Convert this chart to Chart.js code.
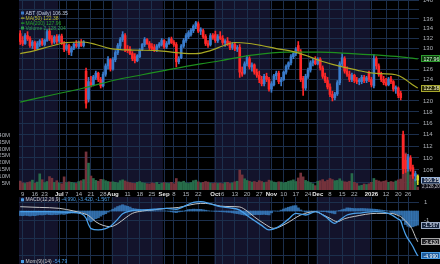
<!DOCTYPE html>
<html><head><meta charset="utf-8">
<script src="https://cdn.jsdelivr.net/npm/chart.js@4.4.1/dist/chart.umd.min.js"></script>
<style>
html,body{margin:0;padding:0;background:#000;width:440px;height:264px;overflow:hidden}
canvas{position:absolute;left:0}
#c1{top:0}
#c2{top:197px}
</style></head><body>
<canvas id="c1" width="440" height="197"></canvas>
<canvas id="c2" width="440" height="67"></canvas>
<script>
// ---------- DATA ----------
const dates = [
'6/6','6/9','6/10','6/11','6/12','6/13','6/16','6/17','6/18','6/20','6/23','6/24','6/25','6/26','6/27','6/30',
'7/1','7/2','7/3','7/7','7/8','7/9','7/10','7/11','7/14','7/15','7/16','7/17','7/18','7/21','7/22','7/23','7/24','7/25','7/28','7/29','7/30','7/31',
'8/1','8/4','8/5','8/6','8/7','8/8','8/11','8/12','8/13','8/14','8/15','8/18','8/19','8/20','8/21','8/22','8/25','8/26','8/27','8/28','8/29',
'9/2','9/3','9/4','9/5','9/8','9/9','9/10','9/11','9/12','9/15','9/16','9/17','9/18','9/19','9/22','9/23','9/24','9/25','9/26','9/29','9/30',
'10/1','10/2','10/3','10/6','10/7','10/8','10/9','10/10','10/13','10/14','10/15','10/16','10/17','10/20','10/21','10/22','10/23','10/24','10/27','10/28','10/29','10/30','10/31',
'11/3','11/4','11/5','11/6','11/7','11/10','11/11','11/12','11/13','11/14','11/17','11/18','11/19','11/20','11/21','11/24','11/25','11/26','11/28',
'12/1','12/2','12/3','12/4','12/5','12/8','12/9','12/10','12/11','12/12','12/15','12/16','12/17','12/18','12/19','12/22','12/23','12/24','12/26','12/29','12/30','12/31',
'1/2','1/5','1/6','1/7','1/8','1/9','1/12','1/13','1/14','1/15','1/16','1/20','1/21','1/22','1/23','1/26','1/27','1/28','1/29','1/30'
];
const opens = [
133.0,131.6,131.0,132.6,132.0,130.6,131.2,130.0,130.8,131.4,130.8,131.6,133.5,132.0,131.3,132.4,
131.5,132.5,131.0,129.9,130.6,129.3,130.1,130.9,130.4,131.2,130.6,125.6,120.3,123.4,123.0,124.4,125.2,124.0,122.8,125.0,126.6,127.8,
126.0,127.8,129.2,130.5,131.8,132.6,129.8,129.8,129.0,128.4,127.6,128.4,129.8,130.8,131.8,131.0,130.4,130.2,129.8,130.5,130.8,
131.6,130.3,131.0,131.9,131.2,130.8,127.4,128.2,130.5,131.6,132.4,132.8,133.6,134.5,135.0,133.5,133.6,132.4,131.0,130.8,132.6,
132.8,131.6,132.4,132.0,131.2,131.5,130.9,130.2,130.8,129.9,130.2,125.4,125.2,127.0,128.0,126.4,126.8,125.4,124.8,124.0,123.2,124.6,124.0,
122.2,123.0,124.7,125.2,123.6,124.0,125.4,126.5,127.2,128.4,129.0,130.6,129.4,124.2,122.4,124.6,125.8,127.2,127.6,
127.0,127.9,126.2,124.6,123.8,122.6,121.2,120.6,121.3,123.4,127.0,128.0,125.6,125.0,124.0,124.8,123.8,123.6,123.6,124.4,123.8,125.2,
124.0,122.8,128.0,126.6,125.0,124.0,123.4,123.0,124.1,123.6,122.2,122.4,121.4,114.0,109.6,108.2,110.0,108.4,107.0,107.0
];
const highs = [
133.6,132.4,133.0,133.4,132.4,131.6,131.5,131.4,131.8,132.0,131.9,133.8,134.0,132.6,132.6,132.8,
132.8,132.9,131.4,131.0,130.9,130.4,131.2,131.6,131.5,131.8,131.6,126.2,124.4,124.6,124.8,125.6,125.4,124.4,125.4,127.0,128.4,128.0,
128.2,129.6,131.0,132.2,133.4,133.0,130.6,130.4,129.4,129.0,128.8,130.0,131.0,132.2,132.0,131.4,131.0,130.8,130.8,131.2,132.0,
131.8,131.4,132.2,132.3,131.6,131.2,128.4,130.8,132.0,133.0,133.6,134.0,134.8,135.5,135.4,134.2,133.9,132.8,131.6,133.0,133.0,
133.5,132.8,133.4,132.6,131.8,132.2,131.4,131.2,131.2,130.6,130.8,126.4,127.4,128.6,128.4,127.2,127.0,126.0,125.6,124.6,125.0,125.2,124.4,
123.6,125.0,125.6,125.6,124.4,125.6,126.8,127.4,128.8,129.4,130.2,131.4,129.8,124.6,125.0,126.2,127.6,128.0,128.4,
128.2,128.2,126.6,125.2,124.4,123.2,121.8,121.6,123.8,127.4,129.0,128.4,126.4,125.6,125.2,125.0,124.4,124.2,124.8,124.8,124.6,125.6,
124.4,128.8,128.4,127.0,125.4,124.6,124.2,124.4,124.6,123.8,122.8,122.6,121.8,114.6,110.6,110.6,110.4,108.8,107.8,107.2
];
const lows = [
130.8,130.6,130.8,131.6,130.2,130.0,129.6,129.8,130.4,130.6,130.5,131.4,131.6,130.8,131.0,131.0,
131.2,130.8,129.4,129.6,128.8,128.6,129.8,130.2,130.0,130.4,130.3,118.7,119.8,122.6,122.8,124.0,123.6,122.4,122.6,124.6,126.0,125.6,
125.8,127.4,128.8,130.0,131.4,129.4,129.2,128.8,127.6,127.2,127.4,128.2,129.6,130.4,130.8,129.8,129.6,129.4,129.4,130.2,130.5,
130.0,130.0,130.8,131.0,130.4,126.4,127.0,128.0,130.2,131.2,132.0,132.5,133.2,134.0,133.2,132.8,132.0,130.6,130.2,130.5,131.8,
131.2,131.2,131.8,130.8,130.4,130.6,129.8,129.8,129.6,129.4,124.4,124.6,125.0,126.6,126.0,125.6,125.0,124.4,123.4,122.8,122.8,123.6,121.8,
121.6,122.8,124.0,123.2,122.8,123.8,125.0,126.0,126.8,128.0,128.6,129.2,123.6,121.0,122.0,124.2,125.4,126.6,126.8,
126.8,125.8,124.2,123.4,122.2,120.8,120.0,120.2,121.0,123.0,126.6,125.2,124.6,123.6,123.6,123.4,123.2,123.0,123.2,123.4,123.4,123.6,
122.6,122.4,126.0,124.6,123.6,123.0,122.8,122.8,123.2,121.8,121.4,120.6,120.2,107.4,107.6,107.8,107.8,106.6,106.2,105.6
];
const closes = [
131.4,131.0,132.6,131.9,130.6,131.3,130.0,131.0,131.5,130.9,131.7,133.4,131.9,131.2,132.3,131.4,
132.5,131.0,129.8,130.6,129.2,130.1,130.9,130.5,131.2,130.6,131.3,119.6,123.6,123.0,124.5,125.2,124.0,122.8,125.0,126.6,127.9,126.0,
127.8,129.2,130.6,131.8,132.8,129.8,129.6,129.0,128.0,127.6,128.6,129.7,130.8,131.8,131.0,130.2,130.0,129.8,130.5,130.9,131.6,
130.3,131.0,131.9,131.2,130.8,127.4,128.0,130.5,131.6,132.6,133.2,133.7,134.5,135.2,133.5,133.8,132.4,131.0,130.6,132.6,132.2,
131.6,132.4,132.0,131.2,131.5,130.9,130.2,130.8,129.9,130.2,125.4,125.0,127.0,128.2,126.4,126.8,125.4,124.8,124.0,123.2,124.6,124.0,122.2,
123.2,124.7,125.2,123.6,124.0,125.4,126.5,127.2,128.4,129.0,129.8,129.5,124.0,122.4,124.6,125.8,127.2,127.6,127.0,
127.9,126.2,124.6,123.8,122.6,121.2,120.6,121.3,123.4,127.0,128.2,125.6,125.0,124.0,124.8,123.8,123.6,123.9,124.4,123.8,124.3,124.0,
123.0,128.0,126.6,125.0,124.0,123.4,123.0,124.1,123.6,122.2,122.5,121.0,120.6,108.2,108.2,110.2,108.2,107.0,107.4,106.35
];
// volume, millions of shares
const volumes = [
6.5,5.2,4.8,5.5,6.0,7.2,5.0,5.8,11.8,7.5,5.4,6.2,9.8,8.6,5.5,6.8,
5.2,4.6,9.6,5.4,6.0,5.6,5.2,4.8,6.2,6.8,7.6,27.8,19.6,10.2,8.4,7.0,6.4,7.8,7.6,6.8,6.2,5.8,
6.0,5.6,5.2,6.8,7.4,6.6,5.8,5.4,5.0,4.8,5.6,6.2,5.4,5.0,4.6,4.4,5.2,4.8,5.6,4.2,5.0,
5.4,5.0,4.8,5.6,4.6,8.4,6.0,5.8,6.4,5.2,4.8,5.4,6.8,7.2,6.0,5.0,5.6,6.2,5.8,5.0,4.8,
5.2,4.8,5.0,4.6,5.4,5.6,4.8,5.2,6.0,6.4,14.6,11.0,8.2,7.0,6.4,5.8,6.2,5.6,6.8,6.2,5.4,5.8,7.2,
6.6,5.8,5.4,6.0,5.8,5.2,5.6,6.4,6.8,7.4,6.2,8.8,12.4,9.6,7.0,6.2,5.4,4.6,3.2,
6.4,6.8,7.6,6.2,7.2,8.4,7.6,6.8,7.0,8.2,6.6,6.0,5.8,6.4,12.0,5.6,4.8,3.0,3.4,4.4,4.0,4.6,
5.6,8.4,7.2,6.6,6.0,6.4,6.8,5.6,6.2,5.8,6.6,7.4,8.0,40.0,27.0,14.6,11.0,9.7,8.0,2.128204
];
const ma50Dates = ['6/6','6/16','6/25','7/7','7/16','7/23','7/31','8/13','8/27','9/11','9/19','9/29','10/6','10/13','10/21','10/28','11/5','11/14','11/24','12/2','12/9','12/16','12/23','12/31','1/8','1/16','1/22','1/27','1/30'];
const ma50Vals  = [129.0,129.6,130.4,131.2,131.3,130.8,130.0,129.7,129.6,129.1,129.0,129.6,130.5,131.2,131.0,130.6,130.0,129.4,128.5,127.6,126.9,126.3,125.8,125.3,125.1,124.9,124.3,123.3,122.38];
const ma200Dates = ['6/6','6/26','7/16','8/5','8/19','9/3','9/23','10/3','10/22','11/11','12/2','12/19','1/7','1/21','1/30'];
const ma200Vals  = [119.8,121.1,122.4,124.0,124.9,125.8,127.0,127.6,128.7,129.3,129.3,129.0,128.7,128.35,127.96];
const macdDates = ['6/6','6/25','7/8','7/15','7/17','7/18','7/21','7/24','7/29','7/31','8/5','8/7','8/12','8/18','8/26','9/3','9/9','9/12','9/18','9/23','9/29','10/3','10/9','10/15','10/20','10/23','10/28','10/31','11/6','11/12','11/17','11/21','11/28','12/4','12/10','12/12','12/17','12/26','1/6','1/13','1/20','1/21','1/22','1/23','1/26','1/27','1/28','1/29','1/30'];
const macdVals  = [-0.07,-0.07,-0.15,-0.3,-0.8,-1.5,-1.95,-2.1,-1.95,-1.7,-0.9,-0.3,0.0,0.11,0.2,0.3,0.2,0.5,0.95,1.04,0.8,0.48,0.35,0.11,-0.5,-1.05,-1.6,-2.1,-1.74,-0.9,-0.26,-0.44,-0.07,-0.6,-1.37,-1.0,-0.44,-0.2,-0.07,-0.26,-0.9,-1.1,-1.9,-2.6,-3.1,-3.5,-3.95,-4.5,-4.99];
const signalDates = ['6/6','6/18','7/1','7/10','7/15','7/18','7/23','7/28','7/31','8/5','8/8','8/13','8/19','8/26','9/3','9/10','9/17','9/23','9/29','10/3','10/9','10/15','10/20','10/23','10/29','11/4','11/11','11/19','11/28','12/3','12/8','12/11','12/16','12/22','1/6','1/14','1/20','1/21','1/22','1/23','1/26','1/27','1/28','1/29','1/30'];
const signalVals  = [0.48,0.4,0.3,0.0,-0.2,-0.5,-1.2,-1.6,-1.74,-1.4,-0.8,-0.26,0.0,0.15,0.3,0.4,0.7,0.85,0.8,0.55,0.5,0.45,0.0,-0.65,-1.4,-1.93,-1.4,-0.44,-0.07,-0.4,-0.81,-1.19,-0.85,-0.6,-0.26,-0.26,-0.5,-0.63,-0.85,-1.1,-1.4,-1.7,-2.2,-2.85,-3.42];
const histVals = [
-0.5,-0.52,-0.48,-0.5,-0.55,-0.5,-0.52,-0.46,-0.42,-0.44,-0.4,-0.36,-0.4,
-0.42,-0.38,-0.4,-0.36,-0.34,-0.38,-0.3,-0.26,
-0.22,-0.2,-0.16,-0.12,-0.1,-0.2,
-0.4,-1.0,-1.2,-1.05,-0.85,-0.75,-0.57,-0.4,-0.3,-0.12,0.04,
0.2,0.35,0.5,0.6,0.7,0.6,0.52,0.44,0.29,0.25,0.21,0.18,
0.13,0.11,0.1,0.08,0.07,0.05,0.04,0.03,0.02,0.01,0.0,
-0.04,-0.09,-0.14,-0.18,-0.1,-0.06,-0.02,
0.07,0.16,0.18,0.21,0.2,0.19,0.19,0.14,0.09,0.04,0.0,
-0.02,-0.04,-0.05,-0.07,-0.09,-0.11,-0.13,-0.15,-0.2,-0.25,-0.29,-0.34,
-0.4,-0.45,-0.5,-0.46,-0.44,-0.4,-0.39,-0.4,-0.39,-0.37,-0.4,-0.43,
-0.2,0.01,-0.01,-0.02,0.1,0.22,0.33,0.42,0.5,0.58,0.6,
0.35,0.12,-0.02,-0.12,-0.1,-0.06,-0.03,0.0,
-0.02,-0.04,-0.07,-0.06,-0.12,-0.18,-0.24,-0.31,
0.01,0.07,0.15,0.22,0.35,0.33,0.3,0.27,0.27,0.27,0.28,0.27,0.25,0.24,0.22,0.21,0.19,
0.15,0.11,0.08,0.04,0.0,-0.16,-0.24,-0.32,-0.4,-0.47,
-1.05,-1.5,-1.7,-1.8,-1.75,-1.65,-1.567
];
const tickDates = ['6/9','6/16','6/23','7/1','7/7','7/14','7/21','7/28','8/1','8/11','8/18','8/25','9/2','9/8','9/15','9/22','10/1','10/6','10/13','10/20','10/27','11/3','11/10','11/17','11/24','12/1','12/8','12/15','12/22','1/2','1/12','1/20','1/26'];
const tickTexts = ['9','16','23','Jul','7','14','21','28','Aug','11','18','25','Sep','8','15','22','Oct','6','13','20','27','Nov','10','17','24','Dec','8','15','22','2026','12','20','26'];
const monthTexts = ['Jul','Aug','Sep','Oct','Nov','Dec','2026'];
const priceTicks = [106,108,110,112,114,116,118,120,122,124,126,128,130,132,134,136,138,140];
const volumeTicks = [5,10,15,20,25,30,35,40];
const macdTicks = [1,0,-1,-2,-3,-4,-5];
const momLabel = 'Mom(9)(14)';
const momValue = '-54.79';

// ---------- STYLE ----------
const FONT = 'Liberation Sans';
Chart.defaults.font.family = FONT;
const GRID = '#1c2f4c';
const NAVY = '#13132b';
const N = dates.length;
const candleCol = closes.map((c,i)=> i===N-1 ? '#d6d62a' : (c>=opens[i] ? '#3a7ccc' : '#ff2828'));
const volCol = closes.map((c,i)=> c>=opens[i] ? '#276c4a' : '#74323b');
const tickIdx = tickDates.map(d=>dates.indexOf(d));
const fmt = v => v.toFixed(2);
function fmt3(v){ return v.toFixed(3); }
const noPad = s => { s.paddingTop = 0; s.paddingBottom = 0; s.paddingLeft = 0; s.paddingRight = 0; };

const bandPlugin = {
  id:'bands',
  beforeDraw(chart){
    const {ctx, chartArea:a, scales:{x}} = chart;
    ctx.save();
    ctx.fillStyle = '#000'; ctx.fillRect(0,0,chart.width,chart.height);
    const w = x.getPixelForValue(1) - x.getPixelForValue(0);
    let start = 0, band = 0;
    const mon = d => d.split('/')[0];
    for (let i=1;i<=N;i++){
      if (i===N || mon(dates[i])!==mon(dates[start])){
        if (band%2===0){
          const x0 = Math.max(a.left, x.getPixelForValue(start)-w/2);
          const x1 = Math.min(a.right, x.getPixelForValue(i-1)+w/2);
          ctx.fillStyle = NAVY; ctx.fillRect(x0, a.top, x1-x0, a.bottom-a.top);
        }
        band++; start = i;
      }
    }
    ctx.restore();
  }
};

function badge(ctx, y, text, stroke, fill, color){
  const x=421, w=19, h=7;
  ctx.fillStyle = fill; ctx.fillRect(x, Math.round(y-h/2), w, h);
  ctx.strokeStyle = stroke; ctx.lineWidth = 1;
  ctx.strokeRect(x+0.5, Math.round(y-h/2)+0.5, w-1, h-1);
  ctx.fillStyle = color; ctx.font = '5.2px "'+FONT+'"';
  ctx.textAlign='left'; ctx.textBaseline='middle';
  ctx.fillText(text, x+2.5, y+0.5);
}

const overlay1 = {
  id:'overlay1',
  afterDraw(chart){
    const ctx = chart.ctx, y = chart.scales.y;
    ctx.save();
    const rows = [
      ['box','#3a7ccc','ABT (Daily) '+fmt(closes[N-1]),'#c4d0e4'],
      ['line','#b0b02a','MA(50) '+fmt(ma50Vals[ma50Vals.length-1]),'#bcbc30'],
      ['line','#22a022','MA(200) '+fmt(ma200Vals[ma200Vals.length-1]),'#28a428'],
      ['box','#2a9a4a','Volume '+Math.round(volumes[N-1]*1e6).toLocaleString('en-US'),'#2e9e50']
    ];
    ctx.font = '5px "'+FONT+'"'; ctx.textBaseline='middle'; ctx.textAlign='left';
    rows.forEach((r,i)=>{
      const cy = 13 + i*5;
      ctx.fillStyle = r[1];
      if (r[0]==='box') ctx.fillRect(21, cy-1.5, 3, 3); else ctx.fillRect(21, cy-0.5, 3.5, 1.2);
      ctx.fillStyle = r[3]; ctx.fillText(r[2], 25.5, cy+0.3);
    });
    badge(ctx, y.getPixelForValue(ma200Vals[ma200Vals.length-1]), fmt(ma200Vals[ma200Vals.length-1]), '#2c9a2c', '#0f3a10', '#d8ffd8');
    badge(ctx, y.getPixelForValue(ma50Vals[ma50Vals.length-1]), fmt(ma50Vals[ma50Vals.length-1]), '#a8a82c', '#2c2c08', '#ffffc8');
    const py = y.getPixelForValue(closes[N-1]);
    badge(ctx, py, fmt(closes[N-1]), '#9ab6dc', '#1b2c4c', '#ffffff');
    ctx.fillStyle = '#0c0c14'; ctx.fillRect(421, py+3.5, 19, 6);
    ctx.fillStyle = '#c0c0c8'; ctx.font = '4.6px "'+FONT+'"';
    ctx.fillText(Math.round(volumes[N-1]*1e6).toLocaleString('en-US'), 422, py+6.7);
    ctx.restore();
  }
};

const overlay2 = {
  id:'overlay2',
  afterDraw(chart){
    const ctx = chart.ctx, m = chart.scales.m;
    ctx.save();
    ctx.font = '5px "'+FONT+'"'; ctx.textBaseline='middle'; ctx.textAlign='left';
    ctx.fillStyle = '#4a9ee6'; ctx.fillRect(21, 1.3, 3, 3);
    const t1 = 'MACD(12,26,9) ';
    ctx.fillStyle = '#c8c8c8'; ctx.fillText(t1, 25.5, 3);
    const w1 = ctx.measureText(t1).width;
    ctx.fillStyle = '#4a9ee6';
    ctx.fillText(fmt3(macdVals[macdVals.length-1])+', '+fmt3(signalVals[signalVals.length-1])+', '+fmt3(histVals[N-1]), 25.5+w1, 3);
    ctx.fillStyle = '#4a9ee6'; ctx.fillRect(21, 63, 3, 3);
    ctx.fillStyle = '#c8c8c8'; ctx.fillText(momLabel+' ', 25.5, 64.5);
    const w2 = ctx.measureText(momLabel+' ').width;
    ctx.fillStyle = '#4a9ee6'; ctx.fillText(momValue, 25.5+w2, 64.5);
    badge(ctx, m.getPixelForValue(histVals[N-1]), fmt3(histVals[N-1]), '#9aaac4', '#18263e', '#e4ecff');
    badge(ctx, m.getPixelForValue(signalVals[signalVals.length-1]), fmt3(signalVals[signalVals.length-1]), '#a8a8a8', '#222226', '#e8e8e8');
    badge(ctx, m.getPixelForValue(macdVals[macdVals.length-1]), fmt3(macdVals[macdVals.length-1]), '#4a9ee6', '#1f5c9c', '#ffffff');
    ctx.restore();
  }
};

const xCommon = (showLabels) => ({
  type:'category', offset:true,
  grid:{color:GRID, lineWidth:1, drawTicks:false, offset:false},
  border:{display:false},
  afterBuildTicks: s => { s.ticks = tickIdx.map(v=>({value:v})); },
  afterFit: s => { s.height = showLabels ? 7 : 0; noPad(s); },
  ticks: {
    display: showLabels, autoSkip:false, maxRotation:0, minRotation:0, padding:1,
    callback: (v,i) => tickTexts[i],
    font: c => ({family:FONT, size:6, weight: monthTexts.includes(tickTexts[c.index]) ? 'bold' : 'normal'}),
    color: c => monthTexts.includes(tickTexts[c.index]) ? '#e6e6e6' : '#aeb4bc'
  }
});

new Chart(document.getElementById('c1'), {
  type:'bar',
  data:{
    labels: dates,
    datasets:[
      {type:'line', label:'MA50', data: ma50Dates.map((d,i)=>({x:d,y:ma50Vals[i]})), yAxisID:'y',
       borderColor:'#a8a824', borderWidth:1.2, pointRadius:0, cubicInterpolationMode:'monotone', order:1},
      {type:'line', label:'MA200', data: ma200Dates.map((d,i)=>({x:d,y:ma200Vals[i]})), yAxisID:'y',
       borderColor:'#1e901e', borderWidth:1.2, pointRadius:0, cubicInterpolationMode:'monotone', order:2},
      {label:'body', data: opens.map((o,i)=>[o, closes[i]]), yAxisID:'y', backgroundColor:candleCol,
       barThickness:2, grouped:false, order:3},
      {label:'wick', data: lows.map((l,i)=>[l, highs[i]]), yAxisID:'y', backgroundColor:candleCol,
       barThickness:1, grouped:false, order:4},
      {label:'vol', data: volumes, yAxisID:'v', backgroundColor:volCol, barThickness:2, grouped:false, order:10}
    ]
  },
  options:{
    responsive:false, animation:false, devicePixelRatio:1, events:[],
    layout:{padding:0, autoPadding:false},
    plugins:{legend:{display:false}, tooltip:{enabled:false}},
    scales:{
      x: xCommon(true),
      y:{type:'logarithmic', position:'right', min:104.75, max:140,
         grid:{color:GRID, lineWidth:1, drawTicks:false}, border:{display:false},
         afterBuildTicks: s => { s.ticks = priceTicks.map(v=>({value:v})); },
         afterFit: s => { s.width = 21; noPad(s); },
         ticks:{padding:4, color:'#aeb2b8', font:{family:FONT,size:6}, callback: v => v===138 ? '' : String(v)}},
      v:{type:'linear', position:'left', min:0, max:138.7,
         grid:{display:false}, border:{display:false},
         afterBuildTicks: s => { s.ticks = volumeTicks.map(v=>({value:v})); },
         afterFit: s => { s.width = 19; noPad(s); },
         ticks:{padding:1, color:'#aeb2b8', font:{family:FONT,size:6}, callback: v => v+'M'}}
    }
  },
  plugins:[bandPlugin, overlay1]
});

new Chart(document.getElementById('c2'), {
  type:'bar',
  data:{
    labels: dates,
    datasets:[
      {type:'line', label:'MACD', data: macdDates.map((d,i)=>({x:d,y:macdVals[i]})), yAxisID:'m',
       borderColor:'#4aa0ea', borderWidth:1.3, pointRadius:0, cubicInterpolationMode:'monotone', order:1},
      {type:'line', label:'Signal', data: signalDates.map((d,i)=>({x:d,y:signalVals[i]})), yAxisID:'m',
       borderColor:'#c4c4c4', borderWidth:1, pointRadius:0, cubicInterpolationMode:'monotone', order:2},
      {label:'Hist', data: histVals, yAxisID:'m', backgroundColor:'rgba(58,128,196,0.8)',
       barThickness:2.4, grouped:false, order:3}
    ]
  },
  options:{
    responsive:false, animation:false, devicePixelRatio:1, events:[],
    layout:{padding:{left:19, right:0, top:0, bottom:0}, autoPadding:false},
    plugins:{legend:{display:false}, tooltip:{enabled:false}},
    scales:{
      x: xCommon(false),
      m:{type:'linear', position:'right', min:-5.89, max:1.56,
         grid:{color:GRID, lineWidth:1, drawTicks:false}, border:{display:false},
         afterBuildTicks: s => { s.ticks = macdTicks.map(v=>({value:v})); },
         afterFit: s => { s.width = 21; noPad(s); },
         ticks:{padding:5, color:'#aeb2b8', font:{family:FONT,size:6}, callback: v => v>=-1 ? String(v) : ''}}
    }
  },
  plugins:[bandPlugin, overlay2]
});
</script>
</body></html>
